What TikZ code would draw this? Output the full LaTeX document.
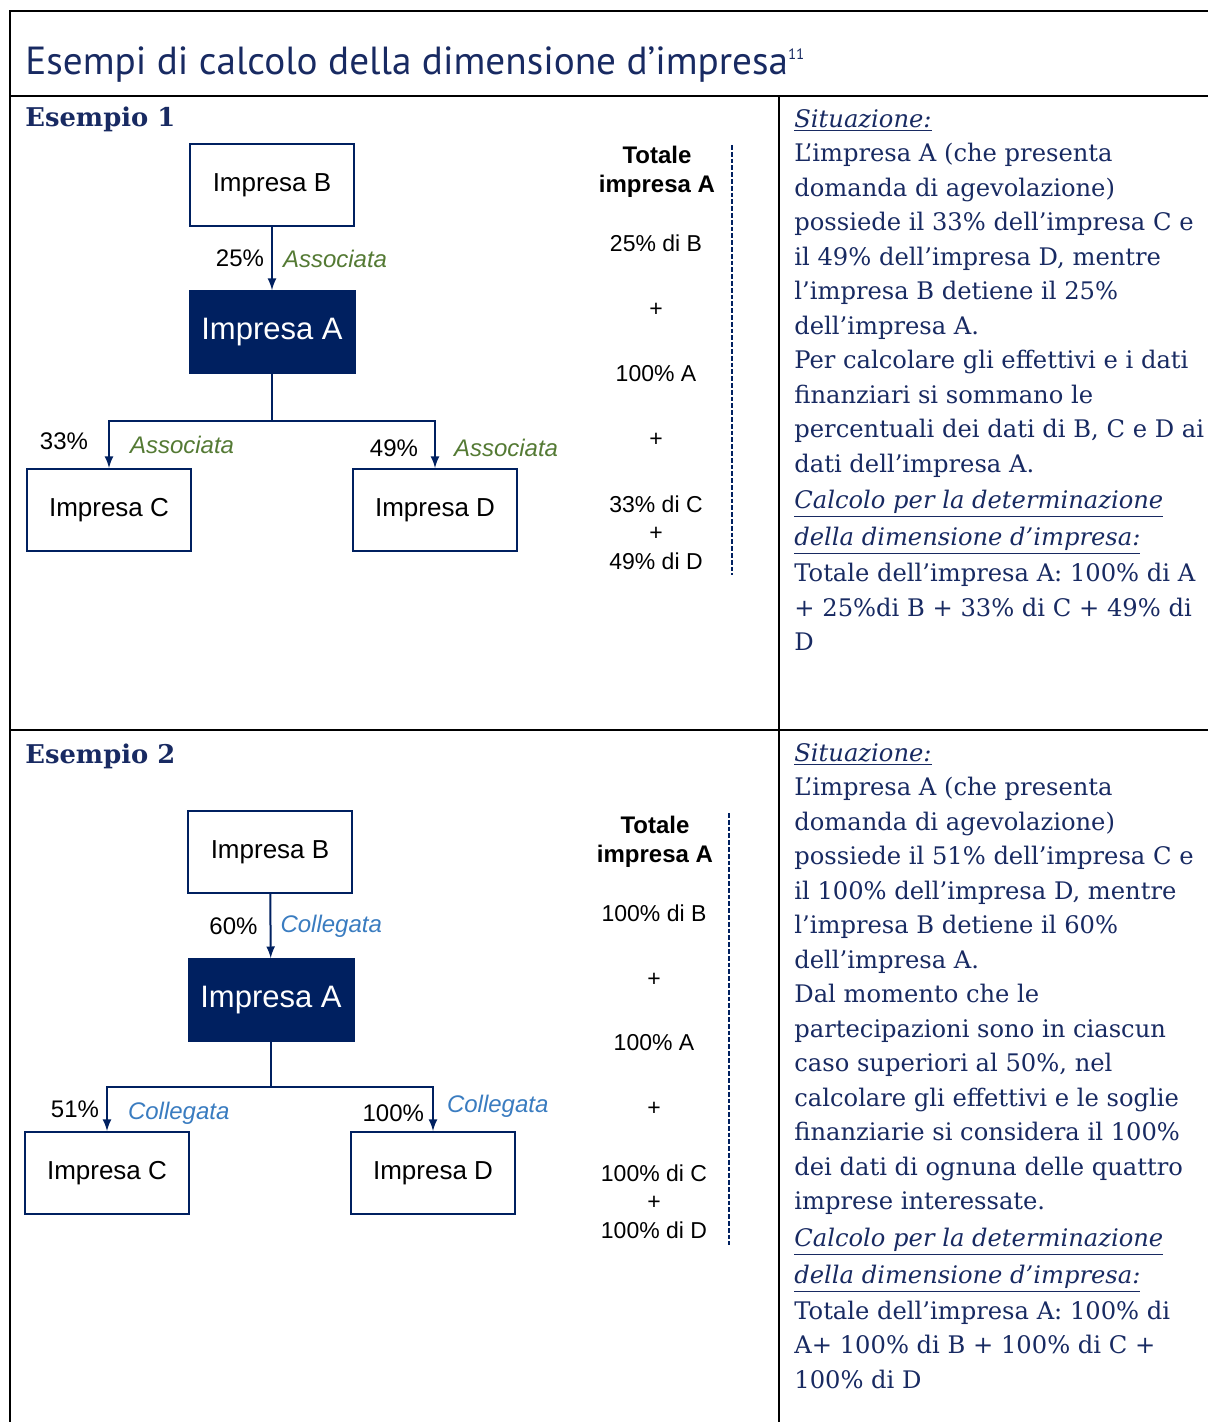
\documentclass[tikz,border=0pt]{standalone}
\usepackage{fontspec}
\setmainfont{DejaVu Serif}
\setsansfont{Liberation Sans}
\newfontfamily\titlefont{PT Sans}
\usepackage{tikz}
\usetikzlibrary{arrows}
\definecolor{navy}{RGB}{0,32,96}
\definecolor{textblue}{RGB}{24,42,98}
\definecolor{assocgreen}{RGB}{84,122,52}
\definecolor{collblue}{RGB}{58,124,192}
\tikzstyle{firm} = [rectangle, minimum width=82pt, minimum height=41pt, draw=navy, line width=1pt, fill=white, font=\sffamily\fontsize{13}{15}\selectfont]
\tikzstyle{firmA} = [rectangle, minimum width=83pt, minimum height=41.5pt, draw=navy, fill=navy, text=white, font=\sffamily\fontsize{15.5}{18}\selectfont]
\tikzstyle{pct} = [inner sep=0pt, font=\sffamily\fontsize{12}{14}\selectfont]
\tikzstyle{assoc} = [inner sep=0pt, text=assocgreen, font=\sffamily\itshape\fontsize{12}{14}\selectfont]
\tikzstyle{coll} = [inner sep=0pt, text=collblue, font=\sffamily\itshape\fontsize{12}{14}\selectfont]
\tikzstyle{sum} = [inner sep=0pt, font=\sffamily\fontsize{11.5}{13}\selectfont]
\tikzstyle{sumhead} = [inner sep=0pt, align=center, font=\sffamily\bfseries\fontsize{12}{14.5}\selectfont]
\tikzstyle{arrow} = [line width=1pt, draw=navy, ->, >=latex]
\tikzstyle{link} = [line width=1pt, draw=navy]
\tikzstyle{total} = [line width=1.2pt, draw=navy, dash pattern=on 2.4pt off 1pt]
\tikzstyle{rule} = [line width=1pt, black]
\tikzstyle{heading} = [anchor=base west, inner sep=0pt, text=textblue, font=\bfseries\fontsize{12.9}{15}\selectfont]
\tikzstyle{story} = [anchor=north west, inner sep=0pt, align=left, text=textblue, font=\fontsize{12.1}{17.25}\selectfont]

\begin{document}
\begin{tikzpicture}[x=0.5pt, y=-0.5pt]
  \useasboundingbox (0,0) rectangle (1208,1422);
  % table frame
  \draw [rule] (10,1422) -- (10,11) -- (1208,11);
  \draw [rule] (10,96) -- (1208,96);
  \draw [rule] (10,730) -- (1208,730);
  \draw [rule] (779,96) -- (779,1422);
  \node (title) [anchor=base west, inner sep=0pt, text=textblue, font=\titlefont\fontsize{19.6}{23}\selectfont] at (25,75) {Esempi di calcolo della dimensione d’impresa\raisebox{7.5pt}{\fontsize{7.5}{8}\selectfont 11}};

  % esempio 1
  \node (ex1) [heading] at (25,127) {Esempio 1};
  \node (b1) [firm] at (272,185) {Impresa B};
  \node (a1) [firmA] at (272,332) {Impresa A};
  \node (c1) [firm] at (109,510) {Impresa C};
  \node (d1) [firm] at (435,510) {Impresa D};
  \draw [arrow] (b1) -- node[pct, left=3.5pt] {25\%} node[assoc, right=5pt] {Associata} (a1);
  \draw [link] (a1.south) -- ++(0,47) coordinate (fork1);
  \draw [arrow] (fork1) -| node[pos=0.72, pct, left=10pt] {33\%} node[pos=0.75, assoc, right=10pt] {Associata} (c1.north);
  \draw [arrow] (fork1) -| node[pos=0.79, pct, left=8pt] {49\%} node[pos=0.79, assoc, right=9pt] {Associata} (d1.north);
  \node (tot1) [sumhead] at (657,172) {Totale\\impresa A};
  \node (tb1) [sum] at (656,243) {25\% di B};
  \node (tp11) [sum] at (656,310) {+};
  \node (ta1) [sum] at (656,374) {100\% A};
  \node (tp12) [sum] at (656,440) {+};
  \node (tc1) [sum] at (656,504) {33\% di C};
  \node (tp13) [sum] at (656,534) {+};
  \node (td1) [sum] at (656,561) {49\% di D};
  \coordinate (line1top) at (732,145);
  \coordinate (line1bot) at (732,575);
  \draw [total] (line1top) -- (line1bot);
  \node (story1) [story] at (794,109) {\underline{\textit{Situazione:}}\\
    L’impresa A (che presenta\\
    domanda di agevolazione)\\
    possiede il 33\% dell’impresa C e\\
    il 49\% dell’impresa D, mentre\\
    l’impresa B detiene il 25\%\\
    dell’impresa A.\\
    Per calcolare gli effettivi e i dati\\
    finanziari si sommano le\\
    percentuali dei dati di B, C e D ai\\
    dati dell’impresa A.\\[1pt]
    \underline{\textit{Calcolo per la determinazione}}\\[1pt]
    \underline{\textit{della dimensione d’impresa:}}\\[1pt]
    Totale dell’impresa A: 100\% di A\\
    + 25\%di B + 33\% di C + 49\% di\\
    D};

  % esempio 2
  \node (ex2) [heading] at (25,763) {Esempio 2};
  \node (b2) [firm] at (270,852) {Impresa B};
  \node (a2) [firmA] at (271,1000) {Impresa A};
  \node (c2) [firm] at (107,1173) {Impresa C};
  \node (d2) [firm] at (433,1173) {Impresa D};
  \draw [arrow] (b2) -- node[pct, left=6pt] {60\%} node[coll, right=4.5pt] {Collegata} (a2);
  \draw [link] (a2.south) -- ++(0,45) coordinate (fork2);
  \draw [arrow] (fork2) -| node[pos=0.75, pct, left=3.5pt] {51\%} node[pos=0.8, coll, right=10pt] {Collegata} (c2.north);
  \draw [arrow] (fork2) -| node[pos=0.8, pct, left=4pt] {100\%} node[pos=0.72, coll, right=6.5pt] {Collegata} (d2.north);
  \node (tot2) [sumhead] at (655,842) {Totale\\impresa A};
  \node (tb2) [sum] at (654,913) {100\% di B};
  \node (tp21) [sum] at (654,980) {+};
  \node (ta2) [sum] at (654,1043) {100\% A};
  \node (tp22) [sum] at (654,1109) {+};
  \node (tc2) [sum] at (654,1173) {100\% di C};
  \node (tp23) [sum] at (654,1203) {+};
  \node (td2) [sum] at (654,1230) {100\% di D};
  \coordinate (line2top) at (729,813);
  \coordinate (line2bot) at (729,1245);
  \draw [total] (line2top) -- (line2bot);
  \node (story2) [story] at (794,743) {\underline{\textit{Situazione:}}\\
    L’impresa A (che presenta\\
    domanda di agevolazione)\\
    possiede il 51\% dell’impresa C e\\
    il 100\% dell’impresa D, mentre\\
    l’impresa B detiene il 60\%\\
    dell’impresa A.\\
    Dal momento che le\\
    partecipazioni sono in ciascun\\
    caso superiori al 50\%, nel\\
    calcolare gli effettivi e le soglie\\
    finanziarie si considera il 100\%\\
    dei dati di ognuna delle quattro\\
    imprese interessate.\\[1pt]
    \underline{\textit{Calcolo per la determinazione}}\\[1.5pt]
    \underline{\textit{della dimensione d’impresa:}}\\[0.5pt]
    Totale dell’impresa A: 100\% di\\
    A+ 100\% di B + 100\% di C +\\
    100\% di D};
\end{tikzpicture}
\end{document}
